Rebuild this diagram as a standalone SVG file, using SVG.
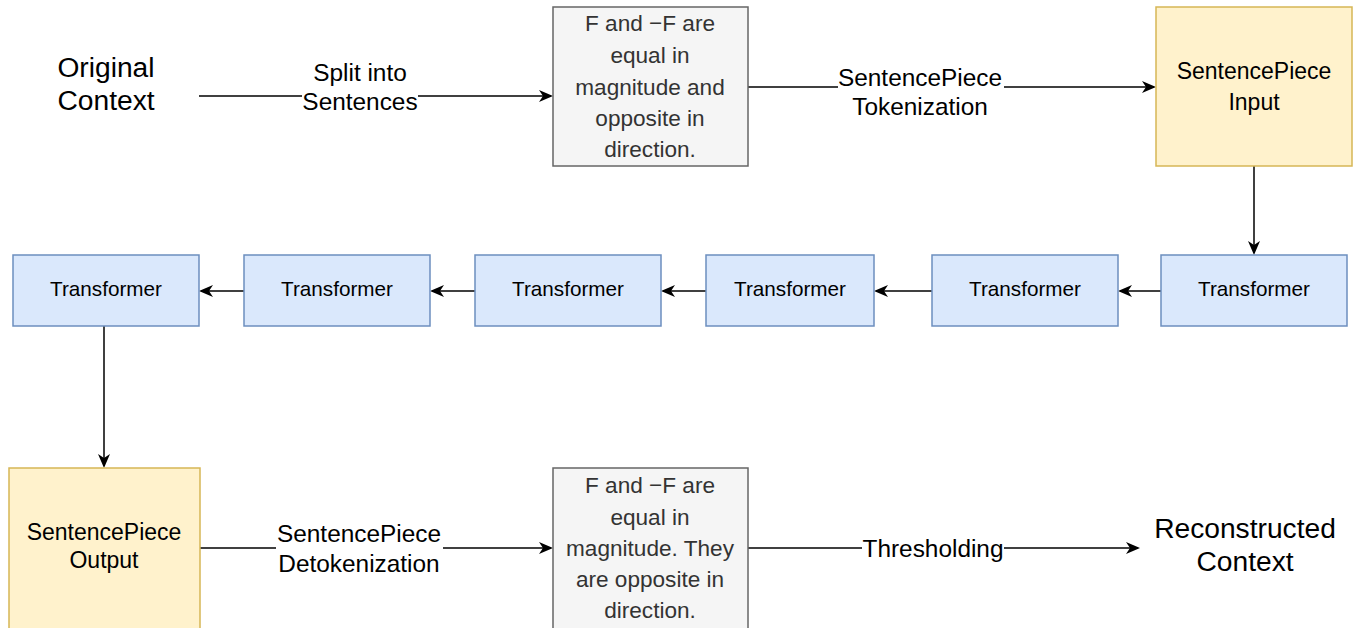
<svg xmlns="http://www.w3.org/2000/svg" width="1353" height="628" viewBox="0 0 1353 628">
<style>
text{font-family:"Liberation Sans",Arial,sans-serif;text-anchor:middle}
.gray{fill:#f5f5f5;stroke:#666666;stroke-width:1.5}
.yel{fill:#fff2cc;stroke:#d6b656;stroke-width:1.5}
.blue{fill:#dae8fc;stroke:#6c8ebf;stroke-width:1.5}
.gt{font-size:22.6px;fill:#333333}
.yt{font-size:23px;fill:#000}
.bt{font-size:20.7px;fill:#000}
.big{font-size:28.2px;fill:#000}
.lbl{font-size:24.4px;fill:#000}
.edge{stroke:#000;stroke-width:1.5;fill:none;marker-end:url(#arr)}
.lb{fill:#fff;stroke:none}
</style>
<defs>
<marker id="arr" markerWidth="14" markerHeight="12" refX="12" refY="6" orient="auto" markerUnits="userSpaceOnUse">
<path d="M0,0 L14,6 L0,12 L4,6 Z" fill="#000"/>
</marker>
</defs>
<rect width="1353" height="628" fill="#fff"/>
<g id="connectors">
<path class="edge" d="M199,96 L551,96"/>
<path class="edge" d="M748,87 L1154,87"/>
<path class="edge" d="M1254,166 L1254,253"/>
<path class="edge" d="M1161,291 L1120,291"/>
<path class="edge" d="M932,291 L876,291"/>
<path class="edge" d="M706,291 L663,291"/>
<path class="edge" d="M475,291 L432,291"/>
<path class="edge" d="M244,291 L201,291"/>
<path class="edge" d="M104,326 L104,466"/>
<path class="edge" d="M200,548 L551,548"/>
<path class="edge" d="M748,548 L1138,548"/>
<rect class="lb" x="302" y="58" width="116" height="54"/>
<text class="lbl" x="360" y="81">Split into</text>
<text class="lbl" x="360" y="110">Sentences</text>
<rect class="lb" x="838" y="63" width="166" height="54"/>
<text class="lbl" x="920" y="86">SentencePiece</text>
<text class="lbl" x="920" y="115">Tokenization</text>
<rect class="lb" x="276" y="519" width="167" height="54"/>
<text class="lbl" x="359" y="542">SentencePiece</text>
<text class="lbl" x="359" y="572">Detokenization</text>
<rect class="lb" x="862" y="534" width="142" height="28"/>
<text class="lbl" x="933" y="557">Thresholding</text>
</g>
<g id="original-context">
<text class="big" x="106" y="77">Original</text>
<text class="big" x="106" y="110">Context</text>
</g>
<g id="sentences-box">
<rect class="gray" x="553" y="7" width="195" height="159"/>
<text class="gt" x="650" y="31">F and −F are</text>
<text class="gt" x="650" y="63">equal in</text>
<text class="gt" x="650" y="95">magnitude and</text>
<text class="gt" x="650" y="126">opposite in</text>
<text class="gt" x="650" y="157">direction.</text>
</g>
<g id="sp-input">
<rect class="yel" x="1156" y="7" width="196" height="159"/>
<text class="yt" x="1254" y="79">SentencePiece</text>
<text class="yt" x="1254" y="110">Input</text>
</g>
<g id="transformer-6">
<rect class="blue" x="1161" y="255" width="186" height="71"/>
<text class="bt" x="1254" y="295.5">Transformer</text>
</g>
<g id="transformer-5">
<rect class="blue" x="932" y="255" width="186" height="71"/>
<text class="bt" x="1025" y="295.5">Transformer</text>
</g>
<g id="transformer-4">
<rect class="blue" x="706" y="255" width="168" height="71"/>
<text class="bt" x="790" y="295.5">Transformer</text>
</g>
<g id="transformer-3">
<rect class="blue" x="475" y="255" width="186" height="71"/>
<text class="bt" x="568" y="295.5">Transformer</text>
</g>
<g id="transformer-2">
<rect class="blue" x="244" y="255" width="186" height="71"/>
<text class="bt" x="337" y="295.5">Transformer</text>
</g>
<g id="transformer-1">
<rect class="blue" x="13" y="255" width="186" height="71"/>
<text class="bt" x="106" y="295.5">Transformer</text>
</g>
<g id="sp-output">
<rect class="yel" x="9" y="468" width="191" height="162"/>
<text class="yt" x="104" y="540">SentencePiece</text>
<text class="yt" x="104" y="568">Output</text>
</g>
<g id="detok-box">
<rect class="gray" x="553" y="468" width="195" height="162"/>
<text class="gt" x="650" y="493">F and −F are</text>
<text class="gt" x="650" y="525">equal in</text>
<text class="gt" x="650" y="556">magnitude. They</text>
<text class="gt" x="650" y="587">are opposite in</text>
<text class="gt" x="650" y="618">direction.</text>
</g>
<g id="reconstructed-context">
<text class="big" x="1245" y="538">Reconstructed</text>
<text class="big" x="1245" y="571">Context</text>
</g>
</svg>
